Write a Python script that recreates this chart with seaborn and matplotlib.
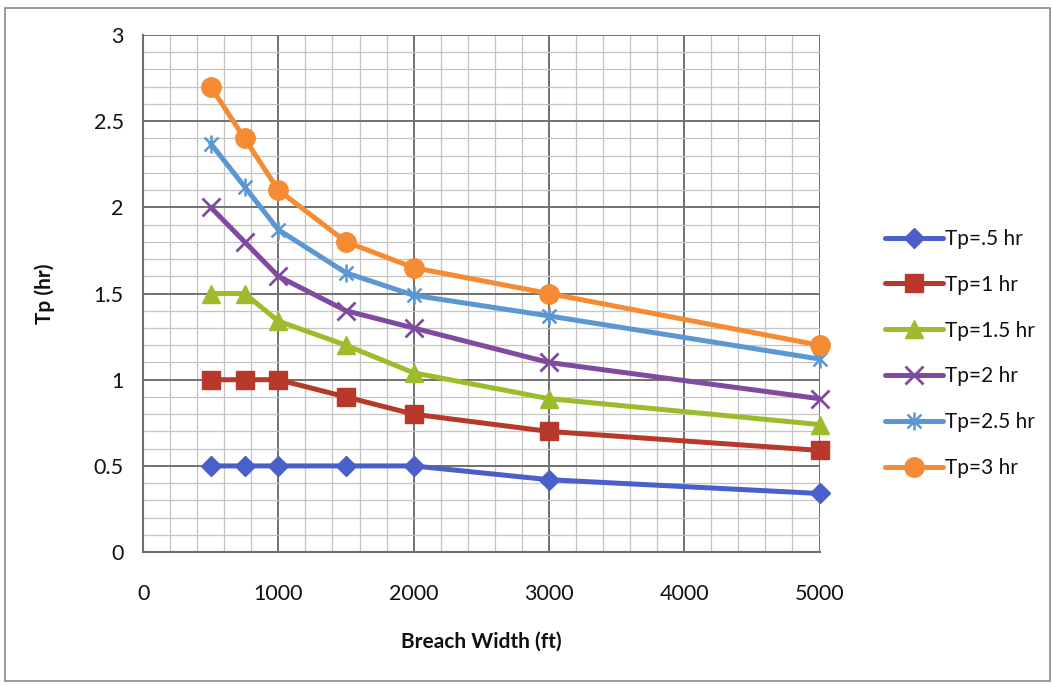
import matplotlib
matplotlib.use("Agg")
import matplotlib.pyplot as plt
from matplotlib.path import Path
from matplotlib.patches import Rectangle
from matplotlib.ticker import MultipleLocator
import seaborn as sns

# Breach width (ft) and time to peak (hr) for each Tp case
breach_width = [500, 750, 1000, 1500, 2000, 3000, 5000]
tp_05 = [0.50, 0.50, 0.50, 0.50, 0.50, 0.42, 0.34]
tp_10 = [1.00, 1.00, 1.00, 0.90, 0.80, 0.70, 0.59]
tp_15 = [1.50, 1.50, 1.34, 1.20, 1.04, 0.89, 0.74]
tp_20 = [2.00, 1.80, 1.60, 1.40, 1.30, 1.10, 0.89]
tp_25 = [2.37, 2.12, 1.87, 1.62, 1.49, 1.37, 1.12]
tp_30 = [2.70, 2.40, 2.10, 1.80, 1.65, 1.50, 1.20]
series_labels = ["Tp=.5 hr", "Tp=1 hr", "Tp=1.5 hr", "Tp=2 hr", "Tp=2.5 hr", "Tp=3 hr"]
x_ticks = [0, 1000, 2000, 3000, 4000, 5000]
y_ticks = [0, 0.5, 1, 1.5, 2, 2.5, 3]
y_tick_labels = ["0", "0.5", "1", "1.5", "2", "2.5", "3"]

sns.set_theme(style="white")
plt.rcParams["font.family"] = ["Lato", "DejaVu Sans"]

# Star marker: an "x" crossed by a vertical stroke
star = Path([(-1, -1), (1, 1), (-1, 1), (1, -1), (0, -1.3), (0, 1.3)],
            [Path.MOVETO, Path.LINETO, Path.MOVETO, Path.LINETO, Path.MOVETO, Path.LINETO])

styles = [
    dict(color="#4a5fc9", marker="D", ms=10.5),
    dict(color="#b8382c", marker="s", ms=13),
    dict(color="#9cbc2c", marker="^", ms=12.5),
    dict(color="#7f4a9f", marker="x", ms=13, mew=2),
    dict(color="#5b97d2", marker=star, ms=13, mew=1.8),
    dict(color="#f58b33", marker="o", ms=14),
]

fig = plt.figure(figsize=(10.52, 6.85), dpi=100)
fig.patch.set_facecolor("white")
ax = fig.add_axes([0.136, 0.194, 0.643, 0.755])

for ys, lab, st in zip([tp_05, tp_10, tp_15, tp_20, tp_25, tp_30], series_labels, styles):
    sns.lineplot(x=breach_width, y=ys, ax=ax, color=st["color"], linewidth=3.6,
                 marker=st["marker"], markersize=st["ms"],
                 markeredgewidth=st.get("mew", 1), markeredgecolor=st["color"],
                 markerfacecolor=st["color"], label=lab, zorder=3, clip_on=False)

ax.set_xlim(0, 5000)
ax.set_ylim(0, 3)
ax.set_xticks(x_ticks)
ax.set_yticks(y_ticks)
ax.set_yticklabels(y_tick_labels)
ax.xaxis.set_minor_locator(MultipleLocator(200))
ax.yaxis.set_minor_locator(MultipleLocator(0.1))
ax.grid(which="major", color="#707070", linewidth=1.4)
ax.grid(which="minor", color="#c4c4c4", linewidth=0.9)
ax.set_axisbelow(True)

for side in ["top", "right"]:
    ax.spines[side].set_visible(False)
for side in ["left", "bottom"]:
    ax.spines[side].set_color("#6e6e6e")
    ax.spines[side].set_linewidth(1.5)

ax.tick_params(axis="both", which="major", direction="out", length=6, width=1.5,
               color="#6e6e6e", labelsize=15.5, labelcolor="#111111")
ax.tick_params(axis="x", which="major", pad=17)
ax.tick_params(axis="y", which="major", pad=8)
ax.tick_params(which="minor", length=0)

ax.set_xlabel("Breach Width (ft)", fontsize=15, fontweight="bold", color="#111111", labelpad=20)
ax.set_ylabel("Tp (hr)", fontsize=15, fontweight="bold", color="#111111", labelpad=28)

leg = ax.legend(loc="upper left", bbox_to_anchor=(0.833, 0.678), bbox_transform=fig.transFigure,
                frameon=False, fontsize=15, handlelength=2.8, handletextpad=0.1,
                labelspacing=1.24, borderaxespad=0)
for txt in leg.get_texts():
    txt.set_color("#111111")

# Chart frame
fig.add_artist(Rectangle((0.005, 0.006), 0.993, 0.982, transform=fig.transFigure,
                         fill=False, edgecolor="#8a8a8a", linewidth=1.2))

fig.savefig("out.png", dpi=100)
